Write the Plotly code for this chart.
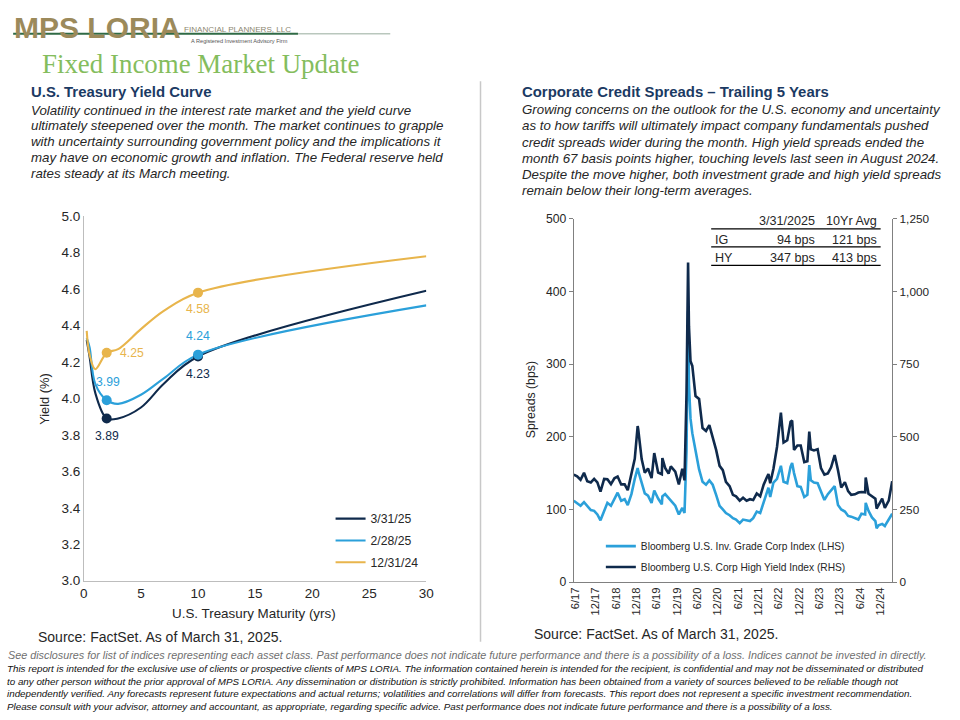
import plotly.graph_objects as go

# Figure is 960x720 at the page origin; positions below are given in target-image
# pixels and converted (the capture shows the page with a small border, ~0.98 scale).
FW, FH = 960, 720
SX, SY = 960 / 976, 720 / 736
OX, OY = 8 * SX, 8 * SY


def fx(x):
    return (x - OX) / SX


def fy(y):
    return (y - OY) / SY


def px(x):
    return fx(x) / FW


def py(y):
    return 1 - fy(y) / FH


# ---------------- Data: U.S. Treasury yield curve ----------------
maturities = [0.25, 0.5, 1, 2, 3, 5, 7, 10, 30]
yield_mar25 = [4.32, 4.23, 4.03, 3.89, 3.89, 3.95, 4.08, 4.23, 4.59]
yield_feb25 = [4.33, 4.28, 4.08, 3.99, 3.97, 4.02, 4.11, 4.24, 4.51]
yield_dec24 = [4.37, 4.24, 4.16, 4.25, 4.27, 4.38, 4.48, 4.58, 4.78]
curve_names = ["3/31/25", "2/28/25", "12/31/24"]
label_maturities = [2, 10]

# ---------------- Data: corporate credit spreads (bps) ----------------
spread_dates = [
    "2017-05-31", "2017-06-30", "2017-07-31", "2017-08-31", "2017-09-29", "2017-10-31", "2017-11-30", "2017-12-29",
    "2018-01-26", "2018-02-28", "2018-03-29", "2018-04-30", "2018-05-31", "2018-06-29", "2018-07-31", "2018-08-31",
    "2018-09-28", "2018-10-31", "2018-11-30", "2018-12-26", "2018-12-31",
    "2019-01-31", "2019-02-28", "2019-03-29", "2019-04-30", "2019-05-24", "2019-06-28", "2019-07-31", "2019-08-05",
    "2019-08-30", "2019-09-30", "2019-10-20", "2019-11-29", "2019-12-31",
    "2020-01-31", "2020-02-20", "2020-02-28", "2020-03-09", "2020-03-23", "2020-03-31", "2020-04-14", "2020-04-30",
    "2020-05-29", "2020-06-30", "2020-07-31", "2020-08-31", "2020-09-30", "2020-10-30", "2020-11-30", "2020-12-31",
    "2021-01-29", "2021-02-26", "2021-03-31", "2021-04-30", "2021-05-28", "2021-06-30", "2021-07-30", "2021-08-31",
    "2021-09-30", "2021-10-29", "2021-11-30", "2021-12-31",
    "2022-01-31", "2022-02-28", "2022-03-15", "2022-03-31", "2022-04-29", "2022-05-31", "2022-06-30", "2022-07-05",
    "2022-07-29", "2022-08-31", "2022-09-30", "2022-10-14", "2022-10-31", "2022-11-30", "2022-12-30",
    "2023-01-31", "2023-02-28", "2023-03-17", "2023-03-31", "2023-04-28", "2023-05-31", "2023-06-30", "2023-07-31",
    "2023-08-31", "2023-09-29", "2023-10-31", "2023-11-30", "2023-12-29",
    "2024-01-31", "2024-02-29", "2024-03-28", "2024-04-30", "2024-05-31", "2024-06-28", "2024-07-31", "2024-08-05",
    "2024-08-30", "2024-09-30", "2024-10-31", "2024-11-11", "2024-11-29", "2024-12-31",
    "2025-01-24", "2025-01-31", "2025-02-28", "2025-03-31",
]
ig_spread = [
    112, 109, 105, 110, 104, 99, 98, 93,
    85, 98, 109, 105, 115, 123, 112, 114,
    106, 121, 142, 157, 153,
    138, 122, 119, 109, 126, 115, 107, 118,
    121, 115, 112, 105, 93,
    102, 95, 125, 180, 373, 272, 225, 205,
    181, 155, 138, 134, 140, 134, 120, 105,
    100, 95, 92, 88, 86, 81, 86, 85,
    84, 88, 97, 95,
    110, 124, 130, 117, 137, 142, 155, 160,
    138, 136, 159, 164, 150, 132, 131,
    117, 120, 161, 140, 137, 136, 124, 113,
    121, 126, 132, 106, 100,
    97, 91, 90, 88, 86, 94, 93, 109,
    98, 89, 84, 74, 78, 80,
    77, 79, 87, 94,
]
hy_spread = [
    370, 364, 352, 376, 347, 343, 355, 343,
    311, 355, 354, 337, 357, 363, 336, 336,
    316, 371, 424, 537, 526,
    423, 376, 391, 358, 444, 377, 371, 427,
    393, 373, 398, 380, 336,
    390, 350, 500, 650, 1100, 880, 760, 744,
    640, 630, 530, 520, 540, 500, 455, 400,
    385, 345, 330, 300, 295, 280, 290, 280,
    285, 282, 305, 295,
    335, 360, 372, 340, 390, 465, 570, 583,
    480, 488, 552, 556, 455, 470, 470,
    413, 416, 518, 457, 453, 457, 392, 370,
    374, 395, 437, 385, 325,
    344, 313, 300, 302, 308, 310, 309, 360,
    304, 295, 287, 253, 266, 287,
    255, 261, 280, 347,
]
spread_names = ["Bloomberg U.S. Inv. Grade Corp Index (LHS)", "Bloomberg U.S. Corp High Yield Index (RHS)"]
spread_ticktext = ["6/17", "12/17", "6/18", "12/18", "6/19", "12/19", "6/20", "12/20",
                   "6/21", "12/21", "6/22", "12/22", "6/23", "12/23", "6/24", "12/24"]
spread_tickvals = ["2017-06-15", "2017-12-15", "2018-06-15", "2018-12-15", "2019-06-15", "2019-12-15",
                   "2020-06-15", "2020-12-15", "2021-06-15", "2021-12-15", "2022-06-15", "2022-12-15",
                   "2023-06-15", "2023-12-15", "2024-06-15", "2024-12-15"]

# summary table
table_header = ["3/31/2025", "10Yr Avg"]
table_rows = ["IG", "HY"]
table_current = [94, 347]
table_avg10 = [121, 413]

# ---------------- Styles ----------------
NAVY = "#0f2a4c"
BLUE = "#2ba0da"
GOLD = "#e8b54c"
FONT = "Liberation Sans, Arial, sans-serif"
TXT = "#262626"
HEAD = "#1b3a63"

fig = go.Figure()

curve_vals = [yield_mar25, yield_feb25, yield_dec24]
curve_cols = [NAVY, BLUE, GOLD]
for gi, (name, vals, col) in enumerate(zip(curve_names, curve_vals, curve_cols)):
    fig.add_trace(go.Scatter(
        x=maturities, y=vals, mode="lines", name=name, legendgroup=f"c{gi}",
        line=dict(color=col, width=2.1, shape="spline", smoothing=1.0),
        xaxis="x", yaxis="y", legend="legend",
    ))
for name, vals, col in zip(curve_names, curve_vals, curve_cols):
    idx = [i for i, m in enumerate(maturities) if m in label_maturities]
    fig.add_trace(go.Scatter(
        x=[maturities[i] for i in idx], y=[vals[i] for i in idx], mode="markers",
        marker=dict(color=col, size=10), showlegend=False, hoverinfo="skip",
        xaxis="x", yaxis="y",
    ))

# data labels: (curve index, maturity) -> (xshift, yshift)
label_offsets = {
    0: {2: (0, -17), 10: (0, -17)},
    1: {2: (1, 18), 10: (0, 18)},
    2: {2: (25, 0), 10: (0, -16)},
}
annotations = []
for ci, vals in enumerate(curve_vals):
    for m in label_maturities:
        i = maturities.index(m)
        xs, ys = label_offsets[ci][m]
        annotations.append(dict(
            x=maturities[i], y=vals[i], xref="x", yref="y", text=f"{vals[i]:.2f}",
            showarrow=False, xshift=xs / SX, yshift=ys / SY,
            font=dict(family=FONT, size=12.2, color=curve_cols[ci]),
        ))

# spreads
fig.add_trace(go.Scatter(
    x=spread_dates, y=ig_spread, mode="lines", name=spread_names[0], legendgroup="s0",
    line=dict(color=BLUE, width=2.6), xaxis="x2", yaxis="y2", legend="legend2",
))
fig.add_trace(go.Scatter(
    x=spread_dates, y=hy_spread, mode="lines", name=spread_names[1], legendgroup="s1",
    line=dict(color=NAVY, width=2.6), xaxis="x2", yaxis="y3", legend="legend2",
))


def text(x, y, s, size=12, color=TXT, family=FONT, xanchor="left", yanchor="middle", angle=0):
    annotations.append(dict(
        x=max(px(x), 0), y=py(y), xref="paper", yref="paper", text=s, showarrow=False,
        xanchor=xanchor, yanchor=yanchor, textangle=angle,
        font=dict(family=family, size=size, color=color),
    ))


# logo + title
text(15, 28, "<b>MPS LORIA</b>", size=30, color="#9c8a5b")
text(184, 30, "FINANCIAL PLANNERS, LLC", size=8.1, color="#8c8770")
text(191, 42, "A Registered Investment Advisory Firm", size=5.6, color="#555555")
text(43, 65, "Fixed Income Market Update", size=26.9, color="#84bd5d",
     family="Liberation Serif, Times New Roman, serif")

# section headings and commentary
text(32, 93, "<b>U.S. Treasury Yield Curve</b>", size=14.9, color=HEAD)
text(521, 93, "<b>Corporate Credit Spreads \u2013 Trailing 5 Years</b>", size=14.9, color=HEAD)

left_lines = [
    "Volatility continued in the interest rate market and the yield curve",
    "ultimately steepened over the month. The market continues to grapple",
    "with uncertainty surrounding government policy and the implications it",
    "may have on economic growth and inflation. The Federal reserve held",
    "rates steady at its March meeting.",
]
left_y = [111, 126.5, 142.5, 158.5, 174.5]
for s, yy in zip(left_lines, left_y):
    text(32, yy, f"<i>{s}</i>", size=13.3)

right_lines = [
    "Growing concerns on the outlook for the U.S. economy and uncertainty",
    "as to how tariffs will ultimately impact company fundamentals pushed",
    "credit spreads wider during the month. High yield spreads ended the",
    "month 67 basis points higher, touching levels last seen in August 2024.",
    "Despite the move higher, both investment grade and high yield spreads",
    "remain below their long-term averages.",
]
right_y = [110.5, 126.7, 142.8, 159, 175.2, 191.4]
for s, yy in zip(right_lines, right_y):
    text(521, yy, f"<i>{s}</i>", size=13.3)

# axis titles
text(256, 614, "U.S. Treasury Maturity (yrs)", size=13.4, xanchor="center")
text(47, 400, "Yield (%)", size=12.8, xanchor="center", angle=-90)
text(532, 400, "Spreads (bps)", size=12.3, xanchor="center", angle=-90)

# sources
text(39, 637, "Source: FactSet. As of March 31, 2025.", size=14)
text(533, 634, "Source: FactSet. As of March 31, 2025.", size=14)

# table
text(818, 222, table_header[0], size=12.6, xanchor="right")
text(879, 222, table_header[1], size=12.6, xanchor="right")
row_y = [240.5, 258.5]
for r, cur, avg, yy in zip(table_rows, table_current, table_avg10, row_y):
    text(714, yy, r, size=12.6)
    text(818, yy, f"{cur} bps", size=12.6, xanchor="right")
    text(879, yy, f"{avg} bps", size=12.6, xanchor="right")

# footer
text(9, 655, "<i>See disclosures for list of indices representing each asset class. Past performance does not indicate "
             "future performance and there is a possibility of a loss. Indices cannot be invested in directly.</i>",
     size=10.8, color="#6f6f6f")
footer = [
    "This report is intended for the exclusive use of clients or prospective clients of MPS LORIA. The information contained herein is intended for the recipient, is confidential and may not be disseminated or distributed",
    "to any other person without the prior approval of MPS LORIA. Any dissemination or distribution is strictly prohibited. Information has been obtained from a variety of sources believed to be reliable though not",
    "independently verified. Any forecasts represent future expectations and actual returns; volatilities and correlations will differ from forecasts. This report does not represent a specific investment recommendation.",
    "Please consult with your advisor, attorney and accountant, as appropriate, regarding specific advice. Past performance does not indicate future performance and there is a possibility of a loss.",
]
footer_y = [668.5, 681.5, 694, 706.5]
for s, yy in zip(footer, footer_y):
    text(7.9, yy, f"<i>{s}</i>", size=9.8, color="#111111")

shapes = [
    # logo rule
    dict(type="line", xref="paper", yref="paper", x0=px(16), x1=px(300), y0=py(34.5), y1=py(34.5),
         line=dict(color="#2f6a45", width=2), layer="below"),
    dict(type="line", xref="paper", yref="paper", x0=px(300), x1=px(392), y0=py(34.5), y1=py(34.5),
         line=dict(color="#b9c7bd", width=1.5), layer="below"),
    # separator
    dict(type="line", xref="paper", yref="paper", x0=px(482), x1=px(482), y0=py(82), y1=py(642),
         line=dict(color="#c8c8c8", width=1.5)),
]
for yy in [229.5, 247.5, 266]:
    shapes.append(dict(type="line", xref="paper", yref="paper", x0=px(712), x1=px(881), y0=py(yy), y1=py(yy),
                       line=dict(color="#000000", width=1.2)))

fig.update_layout(
    width=FW, height=FH, margin=dict(l=0, r=0, t=0, b=0),
    paper_bgcolor="white", plot_bgcolor="white",
    font=dict(family=FONT, color=TXT),
    showlegend=True,
    xaxis=dict(domain=[px(86.5), px(428)], range=[0, 30], dtick=5, showgrid=False, zeroline=False,
               showline=True, linecolor="#bdbdbd", linewidth=1, ticks="", fixedrange=True,
               tickfont=dict(size=13.5, color=TXT), anchor="y"),
    yaxis=dict(domain=[py(581), py(216.7)], range=[3.0, 5.0], dtick=0.2, tickformat=".1f", showgrid=False,
               zeroline=False, showline=True, linecolor="#bdbdbd", linewidth=1, ticks="",
               tickfont=dict(size=13.5, color=TXT), anchor="x"),
    xaxis2=dict(domain=[px(575), px(892.5)], type="date", range=["2017-05-31", "2025-03-31"],
                tickvals=spread_tickvals, ticktext=spread_ticktext, tickangle=-90, showgrid=False,
                zeroline=False, showline=True, linecolor="#808080", linewidth=1, ticks="",
                tickfont=dict(size=11.2, color=TXT), anchor="y2"),
    yaxis2=dict(domain=[py(582.3), py(219.6)], range=[0, 500], dtick=100, showgrid=False, zeroline=False,
                showline=True, linecolor="#808080", linewidth=1, ticks="outside", ticklen=4, tickcolor="#808080",
                tickfont=dict(size=12.2, color=TXT), anchor="x2"),
    yaxis3=dict(domain=[py(582.3), py(219.6)], range=[0, 1250], dtick=250, tickformat=",", overlaying="y2",
                side="right", showgrid=False, zeroline=False, showline=True, linecolor="#808080", linewidth=1,
                ticks="outside", ticklen=4, tickcolor="#808080", tickfont=dict(size=11.8, color=TXT),
                anchor="x2"),
    legend=dict(x=px(332.5), y=py(504.5), xanchor="left", yanchor="top", bgcolor="rgba(0,0,0,0)",
                font=dict(size=12.2, color=TXT), tracegroupgap=2.8),
    legend2=dict(x=px(602), y=py(532), xanchor="left", yanchor="top", bgcolor="rgba(0,0,0,0)",
                 font=dict(size=10.2, color=TXT), tracegroupgap=1.9),
    annotations=annotations,
    shapes=shapes,
)

fig.write_html(
    "out.html",
    config={"displayModeBar": False},
    post_script="document.body.style.margin='0';document.body.style.padding='0';"
                "document.documentElement.style.overflow='hidden';",
)
